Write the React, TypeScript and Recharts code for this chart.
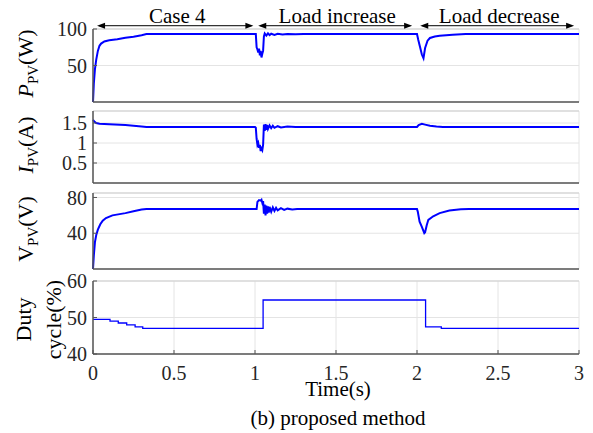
import React from 'react';
import { LineChart, Line, XAxis, YAxis, CartesianGrid, ReferenceLine } from 'recharts';

const FONT = "'Liberation Serif', 'Times New Roman', Times, serif";
const BLUE = '#0000ff';
const AXIS = '#555555';
const GRID = '#e4e4e4';
const W = 593;
const H = 433;

// shared time axis (s)
const timeTicks = [0, 0.5, 1, 1.5, 2, 2.5, 3];

// P_PV (W): [time, value]
const pvPower: [number, number][] = [
  [0, 0], [0.005, 25], [0.012, 45], [0.02, 58], [0.03, 70], [0.04, 77], [0.05, 80],
  [0.07, 83], [0.1, 84.5], [0.15, 86], [0.2, 88], [0.25, 89.5], [0.3, 91.5], [0.33, 93],
  [1.0, 93], [1.005, 93], [1.01, 75], [1.015, 72], [1.02, 68], [1.025, 73], [1.03, 64],
  [1.035, 70], [1.04, 61], [1.045, 66], [1.05, 70], [1.055, 90], [1.06, 94], [1.07, 91],
  [1.08, 94], [1.09, 91.5], [1.1, 93.5], [1.12, 92], [1.14, 93.5], [1.17, 92.5], [1.2, 93.2],
  [1.25, 92.7], [1.3, 93], [2.0, 93], [2.008, 85], [2.018, 76], [2.03, 65], [2.04, 60],
  [2.05, 74], [2.065, 84], [2.08, 87.7], [2.11, 89.8], [2.14, 90.8], [2.22, 92], [2.3, 93], [3, 93],
];

// I_PV (A)
const pvCurrent: [number, number][] = [
  [0, 1.58], [0.01, 1.53], [0.02, 1.5], [0.04, 1.48], [0.1, 1.47], [0.2, 1.45], [0.25, 1.43],
  [0.3, 1.41], [0.33, 1.4], [1.0, 1.4], [1.005, 1.38], [1.01, 1.1], [1.015, 0.95], [1.02, 1.0],
  [1.025, 0.88], [1.03, 0.95], [1.035, 0.8], [1.04, 0.86], [1.045, 0.82], [1.05, 0.95],
  [1.055, 1.46], [1.06, 1.3], [1.065, 1.47], [1.07, 1.33], [1.075, 1.45], [1.08, 1.35],
  [1.09, 1.44], [1.1, 1.37], [1.11, 1.43], [1.12, 1.38], [1.14, 1.42], [1.16, 1.39],
  [1.2, 1.41], [1.25, 1.4], [2.0, 1.4], [2.01, 1.45], [2.03, 1.48], [2.05, 1.46],
  [2.08, 1.43], [2.12, 1.41], [2.16, 1.4], [3, 1.4],
];

// V_PV (V)
const pvVoltage: [number, number][] = [
  [0, 0], [0.005, 15], [0.012, 30], [0.02, 38], [0.03, 44], [0.045, 50], [0.06, 54],
  [0.08, 57], [0.12, 60], [0.2, 62.5], [0.25, 64.5], [0.3, 66.5], [0.33, 67], [1.0, 67],
  [1.01, 67], [1.015, 75], [1.025, 77], [1.035, 76.5], [1.04, 77.5], [1.045, 74], [1.05, 76],
  [1.055, 62], [1.06, 72], [1.065, 60], [1.07, 71], [1.075, 62], [1.08, 70], [1.085, 63],
  [1.09, 69.5], [1.1, 64], [1.11, 69], [1.12, 65], [1.13, 68.5], [1.14, 65.5], [1.16, 68],
  [1.18, 66], [1.2, 67.5], [1.23, 66.5], [1.26, 67], [2.0, 67], [2.005, 64], [2.016, 53],
  [2.03, 47], [2.045, 40], [2.05, 41], [2.06, 49], [2.07, 55], [2.1, 59], [2.14, 62.5],
  [2.2, 65.4], [2.27, 66.8], [2.32, 67], [3, 67],
];

// Duty cycle (%), piecewise constant
const dutyCycle: [number, number][] = [
  [0, 49.5], [0.105, 49.0], [0.156, 48.5], [0.208, 48.0], [0.26, 47.45], [0.307, 47.0],
  [1.05, 54.8], [2.053, 47.45], [2.15, 47.0], [3, 47.0],
];

// annotations above the first panel
const caseLabels = ['Case 4', 'Load increase', 'Load decrease'];
const caseStart = [0.025, 1.02, 2.02];
const caseEnd = [0.99, 1.97, 2.97];
const caseArrowY = 104.5;

const toRows = (pts: [number, number][]) => pts.map(([t, v]) => ({ t, v }));

const tickStyle = { fontFamily: FONT, fontSize: 20, fill: '#262626', style: { fontFamily: FONT } };

function Arrow(props: any) {
  const { x1, y1, x2, text } = props;
  const y = y1;
  const hl = 8;
  const hw = 3;
  return (
    <g>
      <line x1={x1 + 2} y1={y} x2={x2 - 2} y2={y} stroke="#000" strokeWidth={1} />
      <polygon points={`${x1},${y} ${x1 + hl},${y - hw} ${x1 + hl},${y + hw}`} fill="#000" />
      <polygon points={`${x2},${y} ${x2 - hl},${y - hw} ${x2 - hl},${y + hw}`} fill="#000" />
      <text x={(x1 + x2) / 2 + 2} y={y - 3} textAnchor="middle" style={{ fontFamily: FONT }} fontSize={21} fill="#000">
        {text}
      </text>
    </g>
  );
}

function PvTitle(props: any) {
  const { viewBox, sym, italic, unit } = props;
  const cy = viewBox.y + viewBox.height / 2 - 2;
  return (
    <text transform={`translate(33,${cy}) rotate(-90)`} textAnchor="middle" style={{ fontFamily: FONT }} fontSize={22} fill="#000">
      <tspan fontStyle={italic ? 'italic' : 'normal'}>{sym}</tspan>
      <tspan fontSize={15} dy={5}>PV</tspan>
      <tspan dy={-5}>({unit})</tspan>
    </text>
  );
}

function DutyTitle(props: any) {
  const { viewBox } = props;
  const cy = viewBox.y + viewBox.height / 2 + 2;
  return (
    <text transform={`translate(31,${cy}) rotate(-90)`} textAnchor="middle" style={{ fontFamily: FONT }} fontSize={22} fill="#000">
      <tspan x={0} y={0}>Duty</tspan>
      <tspan x={0} y={30}>cycle(%)</tspan>
    </text>
  );
}

function BottomTitles(props: any) {
  const { viewBox } = props;
  const cx = viewBox.x + viewBox.width / 2 + 2;
  return (
    <g style={{ fontFamily: FONT }} fill="#000" fontSize={21}>
      <text x={cx} y={viewBox.y + 42} textAnchor="middle">Time(s)</text>
      <text x={cx} y={viewBox.y + 71} textAnchor="middle">(b) proposed method</text>
    </g>
  );
}

type PanelProps = {
  pts: [number, number][];
  top: number;
  bottom: number;
  domain: [number, number];
  ticks: number[];
  title: React.ReactElement;
  last?: boolean;
  step?: boolean;
  annotate?: boolean;
};

function Panel({ pts, top, bottom, domain, ticks, title, last, step, annotate }: PanelProps) {
  const xh = last ? 60 : 1;
  return (
    <div style={{ position: 'absolute', left: 0, top: 0 }}>
      <LineChart
        width={W}
        height={H}
        data={toRows(pts)}
        margin={{ top, right: 14, bottom: H - bottom - xh, left: 33 }}
      >
        <CartesianGrid stroke={GRID} />
        <ReferenceLine y={domain[1]} stroke="#cfcfcf" />
        <XAxis
          dataKey="t"
          type="number"
          domain={[0, 3]}
          ticks={timeTicks}
          interval={0}
          height={xh}
          stroke={AXIS}
          axisLine={{ stroke: AXIS, strokeWidth: 1.5 }}
          tickSize={-4}
          tickMargin={16}
          tick={last ? tickStyle : false}
          tickFormatter={(v: number) => String(v)}
          label={last ? <BottomTitles /> : undefined}
        />
        <YAxis
          type="number"
          domain={domain}
          ticks={ticks}
          interval={0}
          width={60}
          stroke={AXIS}
          axisLine={{ stroke: AXIS, strokeWidth: 1.5 }}
          tickSize={-4}
          tickMargin={10}
          tick={tickStyle}
          tickFormatter={(v: number) => String(v)}
          label={title}
        />
        {annotate &&
          caseLabels.map((txt, i) => (
            <ReferenceLine
              key={txt}
              segment={[{ x: caseStart[i], y: caseArrowY }, { x: caseEnd[i], y: caseArrowY }]}
              ifOverflow="visible"
              shape={(p: any) => <Arrow {...p} text={txt} />}
            />
          ))}
        <Line
          dataKey="v"
          type={step ? 'stepAfter' : 'linear'}
          stroke={BLUE}
          strokeWidth={step ? 1.3 : 2}
          dot={false}
          activeDot={false}
          isAnimationActive={false}
        />
      </LineChart>
    </div>
  );
}

export default function App() {
  return (
    <div style={{ position: 'absolute', left: 0, top: 0, width: W, height: H, background: '#fff', overflow: 'hidden', fontFamily: FONT }}>
      <Panel
        pts={pvPower}
        top={29}
        bottom={102}
        domain={[0, 100]}
        ticks={[50, 100]}
        title={<PvTitle sym="P" italic unit="W" />}
        annotate
      />
      <Panel
        pts={pvCurrent}
        top={111}
        bottom={183}
        domain={[0, 1.8]}
        ticks={[0.5, 1, 1.5]}
        title={<PvTitle sym="I" italic unit="A" />}
      />
      <Panel
        pts={pvVoltage}
        top={193}
        bottom={269}
        domain={[0, 85]}
        ticks={[40, 80]}
        title={<PvTitle sym="V" unit="V" />}
      />
      <Panel
        pts={dutyCycle}
        top={281}
        bottom={354}
        domain={[40, 60]}
        ticks={[40, 50, 60]}
        title={<DutyTitle />}
        last
        step
      />
    </div>
  );
}
